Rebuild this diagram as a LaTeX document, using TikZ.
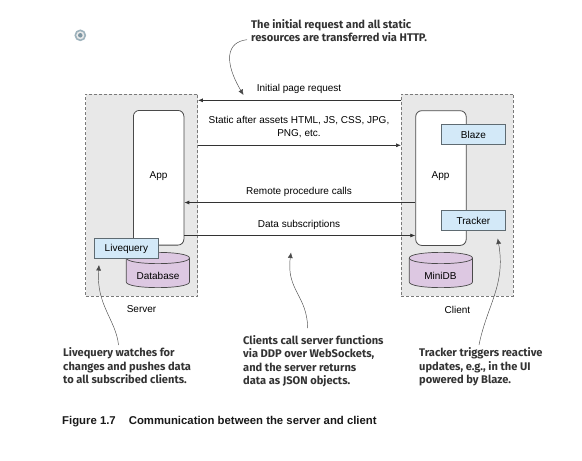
\documentclass[tikz,border=0pt]{standalone}
\usepackage{fontspec}
\setmainfont{Liberation Sans}
\newfontfamily\notefont{Fira Sans}
\usetikzlibrary{arrows.meta}
\definecolor{boxgray}{HTML}{E8E8E8}
\definecolor{dashgray}{HTML}{7A7A7A}
\definecolor{edgegray}{HTML}{4A4A4A}
\definecolor{bluefill}{HTML}{D3E9F8}
\definecolor{bluedraw}{HTML}{5F6B72}
\definecolor{purplefill}{HTML}{DDC8E2}
\definecolor{notecol}{HTML}{333333}
\definecolor{markout}{HTML}{9DB2BC}
\definecolor{markin}{HTML}{7F97A3}
\newcommand{\cylbody}[3]{% left x, top y, bottom y (width 63.2)
  \path[draw=edgegray,fill=purplefill,line width=.7pt]
    (#1,#2) -- (#1,#3) .. controls (#1,#3+7.5) and (#1+63.2,#3+7.5) .. (#1+63.2,#3)
    -- (#1+63.2,#2) .. controls (#1+63.2,#2-7.5) and (#1,#2-7.5) .. (#1,#2) -- cycle;
  \path[draw=edgegray,line width=.7pt]
    (#1,#2) .. controls (#1,#2+7.5) and (#1+63.2,#2+7.5) .. (#1+63.2,#2);
}
\tikzset{
  x=1pt,y=-1pt,
  zone/.style={draw=dashgray,densely dashed,fill=boxgray,line width=.6pt,anchor=north west,inner sep=0,minimum width=112,minimum height=202.5},
  appbox/.style={draw=edgegray,fill=white,line width=.8pt,rounded corners=6pt,anchor=north west,inner sep=0,minimum width=50.5,minimum height=134.7},
  comp/.style={draw=bluedraw,fill=bluefill,line width=.8pt,anchor=north west,inner sep=0,minimum width=64.6,minimum height=20,font=\fontsize{10}{11}\selectfont},
  lab/.style={inner sep=0,font=\fontsize{10}{13.3}\selectfont,align=center},
  link/.style={draw=black!80,line width=.7pt,-{Latex[length=5pt,width=4pt]}},
  note/.style={inner sep=0,anchor=north west,align=left,text=notecol,font=\notefont\bfseries\fontsize{11.1}{13.4}\selectfont},
  callout/.style={draw=edgegray,line width=.45pt,-{Latex[length=5.5pt,width=5pt]}},
}
\begin{document}
\begin{tikzpicture}
\useasboundingbox (0,0) rectangle (582,461);
\fill[white] (0,0) rectangle (582,461);
% mark
\node (mark) [circle,draw=markout,line width=1.6pt,fill=black!8,minimum size=10pt,inner sep=0] at (80.3,35.3) {};
\node (markdot) [circle,fill=markin,minimum size=4.5pt,inner sep=0] at (mark) {};
% zones
\node (server) [zone] at (85.3,93.6) {};
\node (client) [zone] at (401,93.6) {};
\node (sapp) [appbox] at (133,110) {};
\node (capp) [appbox] at (415.3,110.3) {};
\node (sapplab) [lab] at (158.5,176.5) {App};
\node (capplab) [lab] at (440.5,176.5) {App};
\cylbody{126.3}{258}{282}
\cylbody{409.3}{258}{282}
\node (db) [lab] at (158,276) {Database};
\node (mini) [lab] at (440.5,276) {MiniDB};
\node (live) [comp] at (93.7,238.3) {Livequery};
\node (blaze) [comp] at (440.7,124.3) {Blaze};
\node (tracker) [comp] at (440.7,210.3) {Tracker};
\node (serverlab) [lab] at (141.5,309.5) {Server};
\node (clientlab) [lab] at (457.5,309.5) {Client};
% links
\coordinate (r1) at (0,100.3);
\coordinate (r2) at (0,145.3);
\coordinate (r3) at (0,202.5);
\coordinate (r4) at (0,235.5);
\draw[link] (client.west |- r1) -- (server.east |- r1);
\draw[link] (server.east |- r2) -- (client.west |- r2);
\draw[link] (capp.west |- r3) -- (sapp.east |- r3);
\draw[link] (sapp.east |- r4) -- (capp.west |- r4);
\node (l1) [lab] at (299,89) {Initial page request};
\node (l2) [lab] at (299,127) {Static after assets HTML, JS, CSS, JPG,\\PNG, etc.};
\node (l3) [lab] at (299,191.5) {Remote procedure calls};
\node (l4) [lab] at (299,224.7) {Data subscriptions};
% notes
\node (n1) [note] at (251,19.2) {The initial request and all static\\resources are transferred via HTTP.};
\node (n2) [note] at (63,347.7) {Livequery watches for\\changes and pushes data\\to all subscribed clients.};
\node (n3) [note] at (243,335.2) {Clients call server functions\\via DDP over WebSockets,\\and the server returns\\data as JSON objects.};
\node (n4) [note] at (419,347.7) {Tracker triggers reactive\\updates, e.g., in the UI\\powered by Blaze.};
\node (cap) [inner sep=0,anchor=west,text=black!90,font=\bfseries\fontsize{11.35}{13}\selectfont] at (62,422) {Figure 1.7\hspace{13pt}Communication between the server and client};
% callouts
\coordinate (t1) at (243.5,95);
\coordinate (t2) at (99,265);
\coordinate (t3) at (291,252.5);
\coordinate (t4) at (497.7,238.5);
\coordinate (s1) at (247,39.7);
\coordinate (s2) at (118.5,345);
\coordinate (s3) at (307.7,328);
\coordinate (s4) at (479,345);
\draw[callout] (s1) .. controls (226,42) and (224,62) .. (t1);
\draw[callout] (s2) .. controls (116,320) and (96,305) .. (t2);
\draw[callout] (s3) .. controls (307,295) and (286,290) .. (t3);
\draw[callout] (s4) .. controls (487,305) and (506,285) .. (t4);
\end{tikzpicture}
\end{document}
